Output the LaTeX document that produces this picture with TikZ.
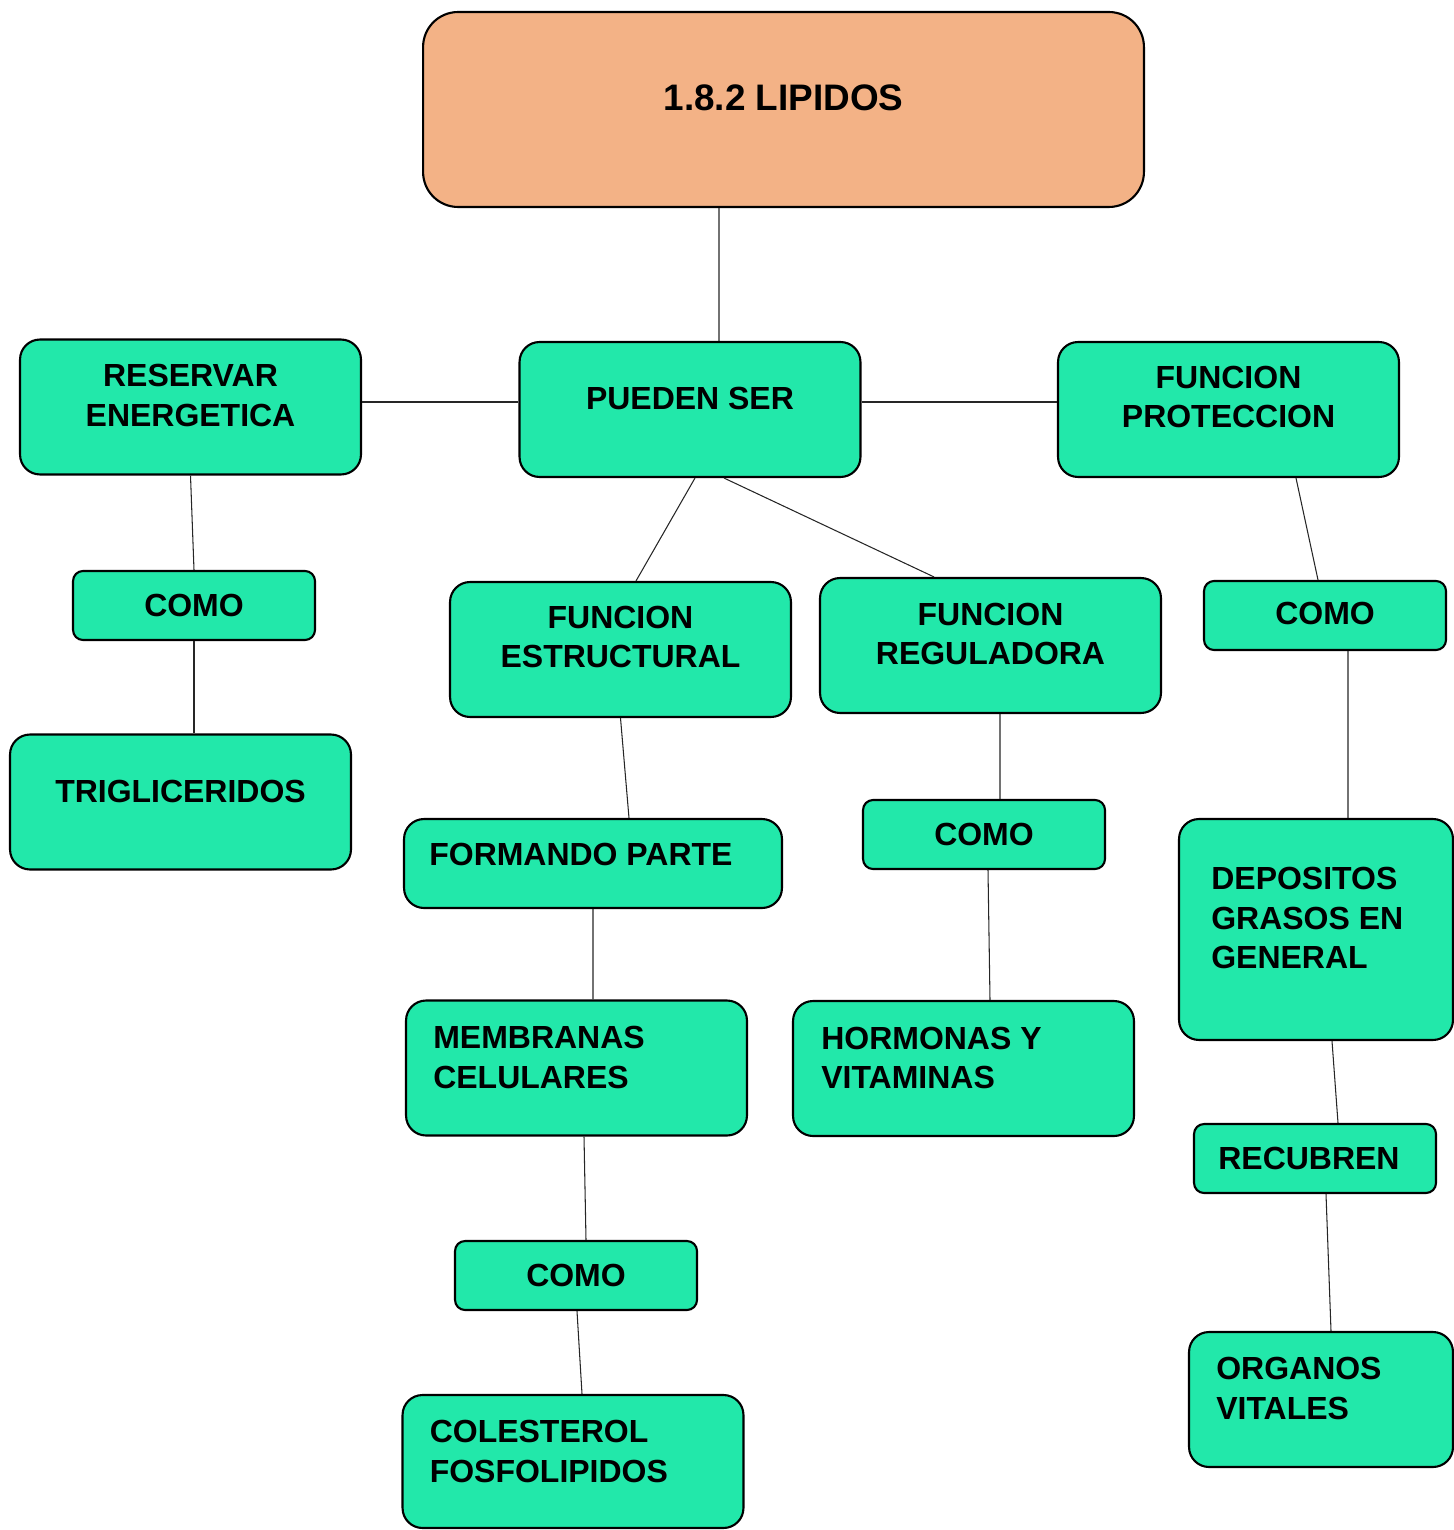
\documentclass[tikz,border=0pt]{standalone}
\usepackage{fontspec}
\setmainfont{Liberation Sans}
\definecolor{verdelip}{RGB}{34,232,170}
\definecolor{naranjalip}{RGB}{243,178,134}
\tikzset{
  caja/.style={draw, line width=1.2pt, fill=verdelip, rounded corners=0.4cm,
    minimum width=6.82cm, minimum height=2.7cm, inner sep=0pt},
  como/.style={caja, rounded corners=0.2cm, minimum width=4.84cm, minimum height=1.38cm},
  texto/.style={font=\bfseries\fontsize{18.2}{22.7}\selectfont, align=center, inner sep=0pt},
  izq/.style={texto, align=left, anchor=west},
  enlace/.style={line width=0.6pt, black!85}
}
\begin{document}
\begin{tikzpicture}[x=0.02cm,y=-0.02cm]
  \useasboundingbox (0,0) rectangle (1453,1530);
  \node[caja, fill=naranjalip, rounded corners=0.7cm, minimum width=14.42cm, minimum height=3.9cm,
    label={[texto, font=\bfseries\fontsize{21}{25}\selectfont, yshift=0.23cm]center:1.8.2 LIPIDOS}] (titulo) at (783.5,109.5) {};
  \node[caja, label={[texto, yshift=0.23cm]center:{RESERVAR\\ENERGETICA}}] (reservar) at (190.5,407) {};
  \node[caja, label={[texto, yshift=0.23cm]center:PUEDEN SER}] (pueden) at (690,409.5) {};
  \node[caja, label={[texto, yshift=0.25cm]center:{FUNCION\\PROTECCION}}] (proteccion) at (1228.5,409.5) {};
  \node[como, label={[texto]center:COMO}] (como1) at (194,605.5) {};
  \node[caja, label={[texto, yshift=0.22cm]center:TRIGLICERIDOS}] (trigliceridos) at (180.5,802) {};
  \node[caja, label={[texto, yshift=0.25cm]center:{FUNCION\\ESTRUCTURAL}}] (estructural) at (620.5,649.5) {};
  \node[caja, label={[texto, yshift=0.23cm]center:{FUNCION\\REGULADORA}}] (reguladora) at (990.5,645.5) {};
  \node[como, label={[texto, yshift=0.05cm]center:COMO}] (como2) at (1325,615.5) {};
  \node[caja, minimum width=7.56cm, minimum height=1.78cm,
    label={[izq, xshift=0.52cm, yshift=0.19cm]west:FORMANDO PARTE}] (formando) at (593,863.5) {};
  \node[como, label={[texto]center:COMO}] (como3) at (984,834.5) {};
  \node[caja, minimum width=5.48cm, minimum height=4.42cm,
    label={[izq, xshift=0.66cm, yshift=0.23cm]west:{DEPOSITOS\\GRASOS EN\\GENERAL}}] (depositos) at (1316,929.5) {};
  \node[caja, label={[izq, xshift=0.56cm, yshift=0.21cm]west:{MEMBRANAS\\CELULARES}}] (membranas) at (576.5,1068) {};
  \node[caja, label={[izq, xshift=0.58cm, yshift=0.21cm]west:{HORMONAS Y\\VITAMINAS}}] (hormonas) at (963.5,1068.5) {};
  \node[como, label={[izq, xshift=0.5cm]west:RECUBREN}] (recubren) at (1315,1158.5) {};
  \node[como, label={[texto]center:COMO}] (como4) at (576,1275.5) {};
  \node[caja, minimum width=5.28cm,
    label={[izq, xshift=0.56cm, yshift=0.22cm]west:{ORGANOS\\VITALES}}] (organos) at (1321,1399.5) {};
  \node[caja, minimum height=2.66cm,
    label={[izq, xshift=0.56cm, yshift=0.2cm]west:{COLESTEROL\\FOSFOLIPIDOS}}] (colesterol) at (573,1461.5) {};
  \draw[enlace] ([xshift=-1.29cm]titulo.south) -- ([xshift=0.58cm]pueden.north);
  \draw[enlace] ([yshift=0.1cm]reservar.east) -- ([yshift=0.1cm]reservar.east -| pueden.west);
  \draw[enlace] ([yshift=0.15cm]pueden.east) -- ([yshift=0.15cm]pueden.east -| proteccion.west);
  \draw[enlace] (reservar.south) -- (como1.north);
  \draw[enlace] (como1.south) -- (como1.south |- trigliceridos.north);
  \draw[enlace] ([xshift=0.1cm]pueden.south) -- ([xshift=0.31cm]estructural.north);
  \draw[enlace] ([xshift=0.68cm]pueden.south) -- ([xshift=-1.13cm]reguladora.north);
  \draw[enlace] ([xshift=1.35cm]proteccion.south) -- ([xshift=-0.14cm]como2.north);
  \draw[enlace] ([xshift=0.46cm]como2.south) -- ([xshift=0.64cm]depositos.north);
  \draw[enlace] (estructural.south) -- ([xshift=0.72cm]formando.north);
  \draw[enlace] (formando.south) -- ([xshift=0.33cm]membranas.north);
  \draw[enlace] ([xshift=0.19cm]reguladora.south) -- ([xshift=0.32cm]como3.north);
  \draw[enlace] ([xshift=0.08cm]como3.south) -- ([xshift=0.53cm]hormonas.north);
  \draw[enlace] ([xshift=0.15cm]membranas.south) -- ([xshift=0.2cm]como4.north);
  \draw[enlace] ([xshift=0.02cm]como4.south) -- ([xshift=0.18cm]colesterol.north);
  \draw[enlace] ([xshift=0.32cm]depositos.south) -- ([xshift=0.46cm]recubren.north);
  \draw[enlace] ([xshift=0.22cm]recubren.south) -- ([xshift=0.2cm]organos.north);
\end{tikzpicture}
\end{document}
